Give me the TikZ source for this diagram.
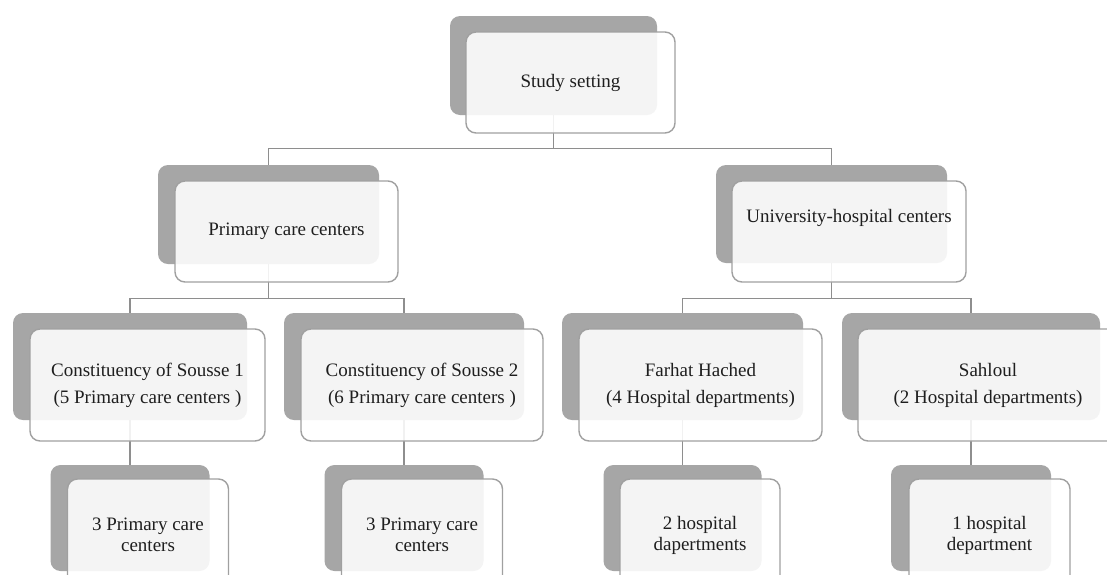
\documentclass[tikz,border=0pt]{standalone}
\usepackage{fontspec}
\setmainfont{Liberation Serif}
\usetikzlibrary{positioning,calc,backgrounds}
\definecolor{backgray}{HTML}{A6A6A6}
\definecolor{edgegray}{HTML}{A0A0A0}
\definecolor{linkgray}{HTML}{8E8E8E}
\definecolor{textgray}{HTML}{1E1E1E}

\begin{document}
\begin{tikzpicture}[
    x=1pt, y=-1pt,
    back/.style={rectangle, fill=backgray, rounded corners=10pt, inner sep=0pt},
    front/.style={rectangle, draw=edgegray, line width=1.4pt, fill=white, fill opacity=0.88, text opacity=1, rounded corners=10pt, inner sep=0pt, align=center, text=textgray, font=\fontsize{19}{27}\selectfont},
    leaf/.style={front, font=\fontsize{19}{21}\selectfont},
    link/.style={draw=linkgray, line width=1.4pt}
]
    \useasboundingbox (0,0) rectangle (1107,574);

    % top
    \node[back, minimum width=207pt, minimum height=99pt] (setting-b) at (553.5,65.5) {};
    \node[front, minimum width=209pt, minimum height=101pt] (setting) at ($(setting-b)+(17,17)$) {Study setting};

    % second level
    \node[back, minimum width=221pt, minimum height=99pt] (primary-b) at (268.5,214.5) {};
    \node[front, minimum width=223pt, minimum height=101pt] (primary) at ($(primary-b)+(18,17)$) {Primary care centers};
    \node[back, minimum width=231pt, minimum height=98pt] (univ-b) at (831.5,214) {};
    \node[front, minimum width=234pt, minimum height=101pt] (univ) at ($(univ-b)+(17.5,17.5)$) {\raisebox{9pt}[0pt][0pt]{University-hospital centers}};

    % third level
    \node[back, minimum width=234pt, minimum height=107pt] (sousse1-b) at (130,366.5) {};
    \node[front, minimum width=235pt, minimum height=112pt] (sousse1) at ($(sousse1-b)+(17.5,18.5)$) {Constituency of Sousse 1\\ (5 Primary care centers )};
    \node[back, minimum width=240pt, minimum height=107pt] (sousse2-b) at (404,366.5) {};
    \node[front, minimum width=242pt, minimum height=112pt] (sousse2) at ($(sousse2-b)+(18,18.5)$) {Constituency of Sousse 2\\(6 Primary care centers )};
    \node[back, minimum width=241pt, minimum height=107pt] (farhat-b) at (682.5,366.5) {};
    \node[front, minimum width=243pt, minimum height=112pt] (farhat) at ($(farhat-b)+(18,18.5)$) {Farhat Hached\\(4 Hospital departments)};
    \node[back, minimum width=258pt, minimum height=107pt] (sahloul-b) at (971,366.5) {};
    \node[front, minimum width=260pt, minimum height=112pt] (sahloul) at ($(sahloul-b)+(17,18.5)$) {Sahloul\\(2 Hospital departments)};

    % bottom level
    \node[back, minimum width=159pt, minimum height=106pt] (pcc1-b) at (130,518) {};
    \node[leaf, minimum width=161pt, minimum height=112pt] (pcc1) at ($(pcc1-b)+(18,17)$) {3 Primary care\\centers};
    \node[back, minimum width=159pt, minimum height=106pt] (pcc2-b) at (404,518) {};
    \node[leaf, minimum width=161pt, minimum height=112pt] (pcc2) at ($(pcc2-b)+(18,17)$) {3 Primary care\\centers};
    \node[back, minimum width=158pt, minimum height=106pt] (hosp1-b) at (682.5,518) {};
    \node[leaf, minimum width=160pt, minimum height=112pt] (hosp1) at ($(hosp1-b)+(17.5,17)$) {2 hospital\\dapertments};
    \node[back, minimum width=160pt, minimum height=106pt] (hosp2-b) at (971,518) {};
    \node[leaf, minimum width=161pt, minimum height=112pt] (hosp2) at ($(hosp2-b)+(18.5,17)$) {1 hospital\\department};

    \begin{pgfonlayer}{background}
        \fill[white] (0,0) rectangle (1107,574);
        \draw[link] (setting-b.south) -- ++(0,33) -| (primary-b.north);
        \draw[link] (setting-b.south) -- ++(0,33) -| (univ-b.north);
        \draw[link] (primary-b.south) -- ++(0,34) -| (sousse1-b.north);
        \draw[link] (primary-b.south) -- ++(0,34) -| (sousse2-b.north);
        \draw[link] (univ-b.south) -- ++(0,35) -| (farhat-b.north);
        \draw[link] (univ-b.south) -- ++(0,35) -| (sahloul-b.north);
        \draw[link] (sousse1-b.south) -- (pcc1-b.north);
        \draw[link] (sousse2-b.south) -- (pcc2-b.north);
        \draw[link] (farhat-b.south) -- (hosp1-b.north);
        \draw[link] (sahloul-b.south) -- (hosp2-b.north);
    \end{pgfonlayer}
\end{tikzpicture}
\end{document}
